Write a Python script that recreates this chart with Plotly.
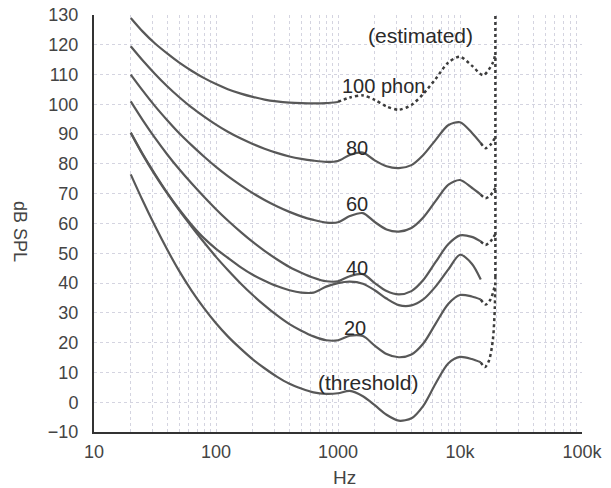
import math
import plotly.graph_objects as go

# ---------------- data ----------------
freq_hz = [20, 25, 31.5, 40, 50, 63, 80, 100, 125, 160, 200, 250, 315, 400, 500,
           630, 800, 1000, 1250, 1600, 2000, 2500, 3150, 4000, 5000, 6300, 8000,
           10000, 12500, 14800]

# 100 phon: measured part up to 1 kHz
phon100_freq = [20, 25, 31.5, 40, 50, 63, 80, 100, 125, 160, 200, 250, 315, 400, 500,
                630, 800, 1000]
phon100_db = [129, 124.5, 120.5, 117, 114, 111.3, 108.8, 106.8, 105.1, 103.6, 102.5,
              101.6, 101, 100.6, 100.4, 100.3, 100.4, 100.8]
# 100 phon: estimated part (dotted)
phon100_est_freq = [1000, 1250, 1600, 2000, 2500, 3150, 4000, 5000, 6300, 8000, 10000,
                    12500, 15500, 18500, 19500]
phon100_est_db = [100.8, 102.3, 103, 101.5, 99.3, 98.2, 99.8, 103.5, 108.5, 114, 116,
                  113, 109.8, 113.8, 117]

phon80_db = [119.5, 114.8, 110.3, 106, 102.4, 99, 95.9, 93.2, 90.8, 88.5, 86.7, 85.1,
             83.7, 82.5, 81.7, 81.1, 80.7, 81.0, 83.0, 83.8, 81.2, 79.2, 78.6, 79.6, 83,
             88, 93, 94, 90.5, 87]
phon60_db = [110, 104.7, 99.5, 94.6, 90.3, 86.3, 82.4, 79, 75.9, 72.8, 70.2, 67.9, 65.8,
             63.9, 62.4, 61.2, 60.3, 60.4, 62.5, 63.5, 60.5, 58, 57.3, 58.5, 62, 67.5,
             73, 74.6, 72, 69.7]
phon40_db = [101, 94.8, 88.8, 83.1, 78.2, 73.5, 68.9, 64.8, 61, 57.1, 53.8, 50.8, 48,
             45.4, 43.5, 41.8, 40.6, 40.6, 42.3, 43, 40, 37.3, 36.2, 37.3, 41, 47, 53,
             56, 55.5, 54]
phon40_orig_db = [90.5, 83.4, 76.7, 70.2, 64.7, 59.6, 55, 51.5, 48.5, 45.3, 42.8, 40.8,
                  39, 37.6, 36.8, 36.8, 38.8, 40, 40.5, 39.8, 37.6, 34.8, 32.6, 32.5,
                  34.5, 38.8, 44.5, 49.5, 46.5, 41.2]
phon20_db = [90.5, 83.2, 76.4, 70, 64.4, 59, 53.6, 48.8, 44.4, 39.8, 36, 32.5, 29.2,
             26.2, 24, 22.1, 20.8, 20.8, 22.3, 22.2, 19, 16.2, 15.1, 16, 19.7, 26.3, 33,
             36, 35.5, 34.5]
threshold_db = [76.5, 67.8, 59.3, 51.1, 44, 37.5, 31.5, 26.5, 22.1, 17.9, 14.4, 11.4,
                8.6, 6.2, 4.6, 3.3, 2.8, 3.0, 3.8, 2.0, -1.0, -4.2, -6.2, -5.4, -1.2,
                6.2, 13, 15.2, 14.5, 13.4]

# estimated (dotted) tails beyond the measured range
tail_freq = [14800, 16200, 17800, 19500]
phon80_tail_db = [87, 85.3, 86.5, 89]
phon60_tail_db = [69.7, 68.5, 69.5, 72]
phon40_tail_db = [54, 52.8, 54, 56.5]
phon20_tail_db = [34.5, 32.8, 34.5, 40]
threshold_tail_freq = [14800, 16000, 17300, 18600, 19300, 19500]
threshold_tail_db = [13.4, 11.8, 14, 21, 32, 42]
edge_freq = [19500, 19500]
edge_db = [42, 130]

y_ticks = list(range(-10, 131, 10))
x_tick_vals = [10, 100, 1000, 10000, 100000]
x_tick_text = ["10", "100", "1000", "10k", "100k"]

labels = [
    ("(estimated)", 4786, 123.2, 21),
    ("100 phon", 2382, 106.2, 20),
    ("80", 1419, 85.4, 20),
    ("60", 1419, 66.7, 20),
    ("40", 1430, 44.9, 20),
    ("20", 1380, 24.8, 20),
    ("(threshold)", 1762, 6.7, 21),
]

# ---------------- figure ----------------
SOLID = "#585858"
DOT = "#3c3c3c"
FONT = "Liberation Sans, Arial, sans-serif"

fig = go.Figure()


def solid(x, y):
    fig.add_trace(go.Scatter(x=x, y=y, mode="lines", showlegend=False,
                             line=dict(color=SOLID, width=2.2, shape="spline", smoothing=0.8),
                             hoverinfo="skip"))


def dotted(x, y):
    fig.add_trace(go.Scatter(x=x, y=y, mode="lines", showlegend=False,
                             line=dict(color=DOT, width=2.5, dash="dot", shape="spline",
                                       smoothing=0.8),
                             hoverinfo="skip"))


solid(phon100_freq, phon100_db)
dotted(phon100_est_freq, phon100_est_db)
for curve in (phon80_db, phon60_db, phon40_db, phon40_orig_db, phon20_db, threshold_db):
    solid(freq_hz, curve)
for tail in (phon80_tail_db, phon60_tail_db, phon40_tail_db, phon20_tail_db):
    dotted(tail_freq, tail)
dotted(threshold_tail_freq, threshold_tail_db)
dotted(edge_freq, edge_db)

for text, fx, fy, fs in labels:
    fig.add_annotation(x=math.log10(fx), y=fy, text=text, showarrow=False,
                       font=dict(family=FONT, size=fs, color="#2a2a2a"),
                       xanchor="center", yanchor="middle")

fig.add_annotation(x=-0.152, y=0.48, xref="paper", yref="paper", text="dB SPL",
                   showarrow=False, textangle=90, xanchor="center", yanchor="middle",
                   font=dict(family=FONT, size=18, color="#444444"))
fig.add_annotation(x=0.514, y=-0.108, xref="paper", yref="paper", text="Hz",
                   showarrow=False, xanchor="center", yanchor="middle",
                   font=dict(family=FONT, size=19, color="#444444"))

GRID = "#d4d4e0"
fig.update_layout(
    width=611, height=488,
    margin=dict(l=94, r=29, t=15, b=56),
    paper_bgcolor="white", plot_bgcolor="white",
    font=dict(family=FONT, size=18, color="#444444"),
    xaxis=dict(type="log", range=[1, 5], tickvals=x_tick_vals, ticktext=x_tick_text,
               showgrid=True, gridcolor=GRID, griddash="dot", gridwidth=1,
               minor=dict(dtick="D1", showgrid=True, gridcolor=GRID, griddash="dot",
                          gridwidth=1, ticks=""),
               showline=True, linecolor="#333333", linewidth=2, ticks="",
               ticklabelstandoff=2, zeroline=False, automargin=False),
    yaxis=dict(range=[-10, 130], tickvals=y_ticks, showgrid=True, gridcolor=GRID,
               griddash="dot", gridwidth=1, showline=True, linecolor="#333333",
               linewidth=2, ticks="", ticklabelstandoff=10, zeroline=False,
               automargin=False),
)

fig.write_html("out.html")
